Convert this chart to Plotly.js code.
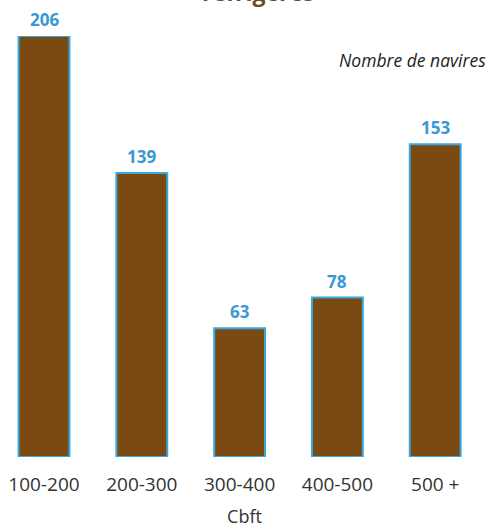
<!DOCTYPE html>
<html>
<head>
<meta charset="utf-8">
<script src="https://cdn.plot.ly/plotly-3.0.1.min.js"></script>
<style>html,body{margin:0;padding:0;background:#fff;}#chart{width:489px;height:529px;}</style>
</head>
<body>
<div id="chart"></div>
<script>
var categories = ["100-200", "200-300", "300-400", "400-500", "500 +"];
var navires = [206, 139, 63, 78, 153];
var titleText = "réfrigérés";
var unitLabel = "Nombre de navires";
var xTitle = "Cbft";

var trace = {
  type: "bar",
  x: categories,
  y: navires,
  width: 0.52,
  marker: { color: "#7a4a12", line: { color: "#36a9e1", width: 2 } },
  hoverinfo: "none"
};

var annotations = categories.map(function (c, i) {
  return {
    x: c, y: navires[i], xref: "x", yref: "y",
    text: "<b>" + navires[i] + "</b>",
    showarrow: false, yanchor: "bottom", yshift: 3,
    font: { family: "Open Sans", size: 17, color: "#3a98d4" }
  };
});
annotations.push({
  xref: "paper", yref: "paper", x: 0.528, y: 1 + (36 - 10) / 421,
  xanchor: "center", yanchor: "bottom",
  text: "<b>" + titleText + "</b>", showarrow: false,
  font: { family: "Open Sans", size: 23, color: "#6e4a1e" }
});
annotations.push({
  xref: "paper", yref: "paper", x: 0.998, y: 1 - (60 - 36) / 421,
  xanchor: "right", yanchor: "middle",
  text: "<i>" + unitLabel + "</i>", showarrow: false,
  font: { family: "Open Sans", size: 17.5, color: "#222" }
});

var layout = {
  width: 489, height: 529,
  margin: { l: 0, r: 0, t: 36, b: 72 },
  paper_bgcolor: "#fff", plot_bgcolor: "#fff",
  showlegend: false,
  bargap: 0.48,
  xaxis: {
    type: "category", range: [-0.45, 4.55],
    showgrid: false, zeroline: false, showline: false,
    ticks: "outside", ticklen: 10, tickcolor: "rgba(0,0,0,0)",
    tickfont: { family: "Open Sans", size: 19, color: "#333" },
    title: { text: xTitle, standoff: 14, font: { family: "Open Sans", size: 18, color: "#333" } }
  },
  yaxis: {
    range: [0, 206], visible: false, fixedrange: true
  },
  annotations: annotations
};

Plotly.newPlot("chart", [trace], layout, { displayModeBar: false, staticPlot: true });
</script>
</body>
</html>
